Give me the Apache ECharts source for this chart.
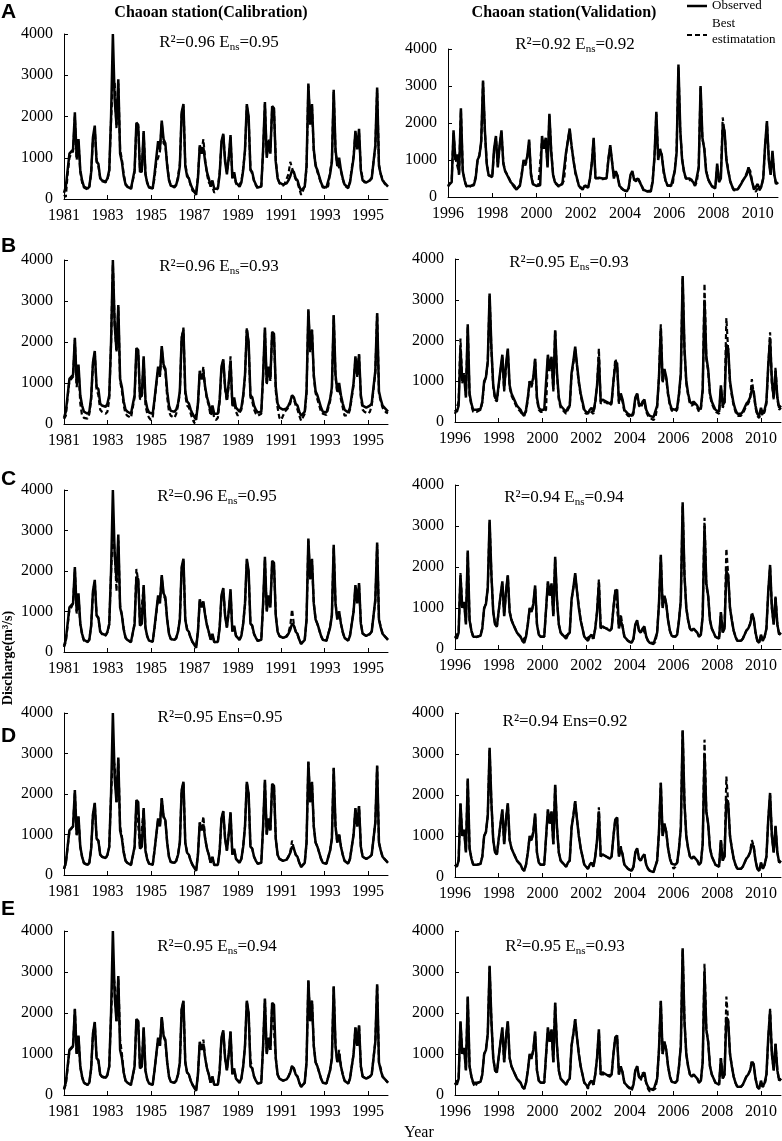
<!DOCTYPE html>
<html>
<head>
  <meta charset="UTF-8">
  <title>Chaoan station discharge</title>
  <style>
    body { margin: 0; background: #fff; }
    #main { width: 782px; height: 1141px; }
  </style>
</head>
<body>
  <div id="main"></div>
  <script src="https://cdn.jsdelivr.net/npm/echarts@6/dist/echarts.min.js"></script>
  <script>
    const calYears = ['1981','1982','1983','1984','1985','1986','1987','1988','1989','1990','1991','1992','1993','1994','1995'];
    const valYears = ['1996','1997','1998','1999','2000','2001','2002','2003','2004','2005','2006','2007','2008','2009','2010'];
    const months = ['01','02','03','04','05','06','07','08','09','10','11','12'];
    const yTicks = [0, 1000, 2000, 3000, 4000];

    // observed monthly discharge, one row per year
    const obsCal = [
      150, 300, 700, 1100, 1150, 1200, 2100, 1000, 1450, 700, 450, 300,
      280, 250, 300, 650, 1500, 1780, 900, 850, 500, 450, 450, 420,
      500, 700, 2000, 4000, 2400, 1800, 2900, 1100, 900, 550, 350, 300,
      300, 250, 230, 700, 1850, 1800, 650, 700, 1650, 600, 380, 280,
      260, 250, 600, 1000, 1400, 1200, 1900, 1450, 1350, 800, 450, 320,
      320, 300, 350, 500, 800, 2100, 2300, 800, 550, 500, 350, 250,
      250, 100, 500, 1300, 1100, 1250, 900, 650, 500, 300, 450, 250,
      220, 250, 600, 1400, 1580, 900, 600, 1000, 1550, 500, 650, 400,
      400, 300, 400, 700, 1200, 2300, 2000, 700, 650, 450, 350, 280,
      280, 300, 1200, 2350, 1000, 1400, 1100, 2250, 2200, 900, 500, 400,
      380, 350, 360, 380, 450, 550, 700, 650, 500, 450, 300, 200,
      220, 300, 800, 2800, 1800, 2300, 1200, 800, 700, 550, 400, 300,
      300, 280, 300, 600, 900, 2650, 1200, 800, 1000, 700, 500, 350,
      320, 280, 400, 700, 1000, 1650, 1200, 1700, 700, 450, 420, 400,
      420, 450, 500, 900, 1300, 2700, 800, 600, 450, 400, 350, 300
    ];
    const obsVal = [
      300, 250, 400, 1800, 1000, 1150, 600, 2400, 700, 450, 300, 280,
      300, 300, 320, 500, 1000, 1100, 1500, 3150, 1800, 900, 600, 550,
      550, 1300, 1650, 800, 1400, 1800, 900, 700, 600, 500, 400, 350,
      300, 200, 150, 300, 600, 1000, 900, 1100, 1550, 600, 350, 300,
      300, 300, 320, 1650, 1300, 1600, 800, 2250, 1200, 600, 400, 350,
      300, 250, 350, 400, 1200, 1500, 1850, 1400, 1000, 700, 500, 300,
      250, 200, 300, 350, 250, 500, 900, 1600, 500, 550, 520, 500,
      500, 450, 500, 1000, 1400, 1450, 500, 700, 550, 300, 250, 200,
      180, 150, 250, 600, 700, 450, 400, 500, 550, 300, 200, 150,
      150, 120, 150, 400, 1100, 2300, 1000, 1300, 1100, 700, 450, 320,
      300, 300, 350, 700, 1200, 3580, 1800, 1000, 700, 500, 450, 500,
      500, 400, 300, 350, 800, 3000, 1600, 1300, 700, 500, 400, 300,
      300, 250, 900, 400, 500, 1900, 1800, 1000, 700, 450, 300, 200,
      180, 200, 250, 350, 450, 500, 600, 800, 750, 400, 200, 150,
      350, 200, 300, 500, 1400, 2050, 1000, 600, 1250, 600, 350, 400
    ];

    // best estimation of each model (rows A..E)
    const estCalA = [
      100, 50, 600, 1000, 1100, 1150, 2000, 950, 1400, 650, 400, 280,
      250, 230, 300, 600, 1450, 1700, 950, 800, 520, 430, 420, 400,
      480, 650, 1900, 2900, 2800, 1700, 2800, 1200, 950, 600, 380, 300,
      280, 230, 250, 650, 1800, 1750, 700, 650, 1600, 620, 400, 300,
      280, 260, 500, 900, 1000, 1150, 1850, 1350, 1300, 850, 480, 330,
      300, 280, 330, 550, 850, 2050, 2250, 850, 600, 480, 330, 200,
      220, 150, 550, 1250, 1150, 1450, 950, 600, 400, 350, 300, 150,
      200, 270, 650, 1350, 1550, 950, 650, 950, 1500, 550, 600, 380,
      300, 280, 420, 750, 1150, 2250, 1950, 750, 600, 430, 330, 250,
      260, 320, 1150, 2300, 1050, 1450, 1150, 2200, 2150, 950, 520, 380,
      350, 320, 380, 420, 600, 900, 750, 600, 480, 400, 250, 100,
      200, 320, 750, 2750, 1850, 2250, 1150, 850, 650, 520, 380, 280,
      280, 260, 320, 650, 950, 2600, 1150, 850, 850, 680, 480, 330,
      300, 260, 420, 750, 1050, 1600, 1250, 1600, 750, 480, 400, 380,
      400, 430, 520, 900, 1250, 2650, 850, 600, 480, 380, 330, 300
    ];
    const estValA = [
      280, 230, 450, 1750, 1050, 1100, 650, 2350, 750, 420, 280, 260,
      280, 320, 350, 550, 950, 1150, 1450, 3100, 1750, 950, 580, 530,
      530, 1250, 1600, 850, 1350, 1750, 950, 700, 620, 520, 420, 330,
      280, 190, 170, 320, 650, 950, 850, 1050, 1500, 650, 380, 280,
      280, 320, 350, 1550, 1350, 1550, 850, 2200, 1250, 620, 380, 330,
      280, 260, 370, 450, 1150, 1550, 1800, 1350, 1050, 650, 480, 320,
      230, 220, 320, 330, 280, 480, 950, 1550, 520, 520, 500, 480,
      480, 430, 520, 1050, 1350, 1400, 550, 680, 580, 320, 230, 180,
      170, 160, 230, 580, 650, 480, 420, 520, 500, 320, 180, 140,
      160, 130, 170, 450, 1050, 2250, 1050, 1250, 1150, 650, 430, 300,
      280, 320, 380, 750, 1250, 3500, 1750, 1050, 650, 520, 430, 480,
      480, 380, 320, 400, 850, 2950, 1550, 1350, 750, 480, 380, 280,
      280, 230, 850, 450, 550, 2150, 1750, 1050, 750, 430, 280, 180,
      170, 190, 270, 380, 420, 520, 650, 780, 700, 420, 220, 140,
      250, 180, 280, 520, 1350, 2000, 1050, 620, 1200, 580, 330, 380
    ];
    const estCalB = [
      120, 200, 650, 1050, 1100, 1150, 2050, 900, 1400, 500, 200, 150,
      150, 130, 250, 600, 1450, 1750, 850, 700, 350, 300, 280, 250,
      300, 600, 1950, 3900, 2450, 1750, 2850, 1050, 800, 450, 250, 200,
      180, 150, 180, 650, 1800, 1750, 600, 650, 1600, 450, 250, 150,
      100, 150, 550, 950, 1350, 1150, 1850, 1400, 1300, 650, 300, 200,
      180, 150, 250, 450, 750, 2100, 2350, 700, 450, 400, 250, 120,
      20, 50, 450, 1250, 1050, 1400, 850, 600, 450, 200, 350, 150,
      100, 150, 550, 1350, 1550, 850, 550, 950, 1650, 400, 550, 300,
      200, 200, 350, 650, 1150, 2350, 1950, 650, 550, 350, 250, 200,
      200, 250, 1150, 2300, 950, 1350, 1050, 2250, 2150, 800, 400, 150,
      100, 200, 300, 330, 400, 500, 700, 600, 450, 350, 200, 80,
      100, 250, 750, 2750, 1750, 2300, 1150, 750, 600, 450, 300, 250,
      230, 220, 250, 550, 850, 2650, 1150, 750, 900, 600, 400, 200,
      200, 220, 350, 650, 950, 1600, 1150, 1700, 650, 350, 300, 280,
      250, 300, 450, 850, 1250, 2700, 750, 550, 400, 330, 280, 260
    ];
    const estValB = [
      200, 200, 500, 2050, 950, 1200, 650, 2350, 650, 400, 250, 230,
      250, 280, 300, 480, 950, 1100, 1450, 3100, 1750, 850, 550, 500,
      500, 1250, 1600, 750, 1350, 1750, 850, 650, 550, 450, 350, 300,
      250, 180, 150, 250, 550, 1000, 850, 1050, 1550, 550, 300, 250,
      230, 250, 300, 1600, 1250, 1550, 750, 2250, 1150, 550, 350, 300,
      250, 200, 300, 380, 1150, 1450, 1800, 1350, 950, 650, 450, 250,
      200, 180, 280, 300, 200, 450, 900, 1800, 450, 500, 500, 480,
      450, 400, 450, 1000, 1550, 1400, 450, 650, 500, 250, 200, 150,
      130, 120, 200, 550, 700, 400, 350, 450, 500, 250, 150, 100,
      80, 50, 100, 350, 1100, 2400, 950, 1250, 1050, 650, 400, 280,
      250, 250, 300, 650, 1150, 3550, 1750, 950, 650, 450, 400, 450,
      450, 350, 250, 300, 750, 3400, 1550, 1250, 650, 450, 350, 250,
      250, 200, 850, 350, 450, 2550, 1750, 950, 650, 400, 250, 150,
      130, 150, 200, 300, 400, 450, 550, 1050, 700, 350, 150, 100,
      250, 150, 250, 450, 1350, 2200, 950, 550, 1350, 550, 300, 350
    ];
    const estCalC = [
      120, 250, 650, 1050, 1100, 1200, 2050, 950, 1400, 680, 420, 280,
      260, 240, 320, 630, 1450, 1750, 920, 820, 520, 440, 430, 400,
      480, 680, 1950, 3000, 2500, 1500, 2750, 1150, 920, 580, 360, 300,
      280, 240, 250, 680, 2050, 1750, 680, 680, 1600, 620, 390, 280,
      270, 260, 580, 950, 1350, 1250, 1850, 1400, 1300, 820, 460, 320,
      310, 290, 340, 520, 820, 2050, 2250, 820, 580, 480, 340, 240,
      230, 150, 520, 1250, 1150, 1200, 920, 680, 480, 320, 420, 240,
      210, 260, 620, 1350, 1550, 920, 620, 980, 1500, 520, 620, 400,
      380, 300, 420, 720, 1150, 2250, 1950, 720, 640, 440, 340, 270,
      270, 320, 1150, 2300, 1050, 1350, 1150, 2200, 2150, 920, 520, 390,
      370, 340, 360, 400, 480, 650, 1050, 680, 520, 430, 300, 200,
      220, 310, 780, 2750, 1800, 2250, 1200, 820, 680, 540, 390, 300,
      290, 270, 310, 620, 920, 2600, 1200, 850, 1000, 700, 480, 340,
      320, 290, 410, 720, 1000, 1600, 1250, 1650, 720, 460, 420, 390,
      410, 440, 520, 900, 1250, 2650, 820, 620, 460, 400, 350, 300
    ];
    const estValC = [
      280, 240, 420, 1850, 1050, 1150, 650, 2350, 720, 440, 300, 270,
      290, 300, 330, 520, 980, 1120, 1480, 3100, 1800, 920, 600, 540,
      540, 1280, 1600, 820, 1380, 1780, 920, 720, 600, 500, 400, 340,
      290, 200, 160, 310, 620, 980, 900, 1080, 1500, 620, 360, 300,
      290, 300, 330, 1600, 1300, 1550, 820, 2200, 1200, 610, 400, 340,
      290, 260, 360, 420, 1200, 1500, 1800, 1400, 1050, 700, 500, 300,
      240, 210, 310, 350, 260, 500, 920, 1700, 520, 540, 520, 490,
      490, 440, 500, 1000, 1450, 1450, 520, 850, 560, 310, 250, 200,
      170, 150, 250, 580, 680, 460, 400, 520, 550, 300, 190, 150,
      150, 130, 160, 420, 1100, 2250, 1050, 1300, 1100, 700, 440, 310,
      300, 300, 360, 720, 1200, 3500, 1800, 1000, 700, 500, 440, 490,
      490, 400, 300, 360, 820, 3200, 1550, 1300, 700, 500, 390, 300,
      290, 250, 880, 420, 520, 2450, 1800, 1000, 700, 450, 300, 200,
      170, 200, 250, 350, 450, 500, 620, 900, 750, 400, 200, 150,
      340, 200, 300, 500, 1380, 2000, 1000, 600, 1300, 600, 350, 400
    ];
    const estCalD = [
      150, 280, 680, 1080, 1120, 1200, 2050, 980, 1420, 690, 440, 290,
      270, 240, 310, 640, 1480, 1760, 900, 840, 510, 450, 440, 410,
      490, 690, 1980, 2900, 2700, 1800, 2850, 1200, 950, 580, 360, 300,
      290, 240, 240, 690, 1800, 1780, 660, 700, 1620, 610, 390, 280,
      260, 250, 590, 980, 1380, 1200, 1880, 1420, 1330, 810, 450, 320,
      320, 300, 350, 510, 810, 2080, 2280, 800, 560, 500, 350, 250,
      240, 120, 500, 1280, 1100, 1450, 880, 650, 500, 310, 440, 250,
      220, 250, 600, 1380, 1560, 900, 610, 1000, 1530, 510, 640, 400,
      390, 300, 400, 700, 1200, 2280, 1980, 720, 650, 450, 350, 280,
      280, 310, 1180, 2320, 1000, 1380, 1100, 2230, 2180, 900, 500, 400,
      380, 350, 360, 380, 460, 560, 850, 650, 500, 450, 300, 200,
      220, 300, 800, 2780, 1800, 2280, 1200, 800, 700, 550, 400, 300,
      300, 280, 300, 600, 900, 2630, 1200, 800, 1020, 700, 500, 350,
      320, 280, 400, 700, 1000, 1640, 1200, 1700, 700, 450, 420, 400,
      420, 450, 500, 900, 1300, 2680, 800, 600, 450, 400, 350, 300
    ];
    const estValD = [
      300, 250, 420, 1780, 1000, 1150, 620, 2380, 700, 450, 300, 280,
      300, 300, 320, 500, 1000, 1100, 1500, 3120, 1800, 900, 600, 550,
      550, 1300, 1600, 800, 1400, 1780, 900, 700, 600, 500, 400, 350,
      300, 200, 150, 300, 600, 1000, 880, 1100, 1500, 600, 350, 300,
      300, 300, 320, 1600, 1300, 1580, 800, 2250, 1200, 600, 400, 350,
      300, 250, 350, 400, 1200, 1500, 1850, 1400, 1000, 700, 500, 300,
      250, 200, 300, 350, 250, 500, 900, 1700, 500, 550, 520, 500,
      500, 450, 500, 1000, 1400, 1450, 500, 750, 550, 300, 250, 200,
      180, 150, 250, 600, 700, 450, 400, 500, 550, 300, 200, 150,
      150, 120, 150, 400, 1100, 2300, 1000, 1300, 1100, 700, 450, 320,
      200, 250, 350, 700, 1200, 3580, 1800, 1000, 700, 500, 450, 500,
      500, 400, 300, 350, 800, 3350, 1600, 1300, 700, 500, 400, 300,
      300, 250, 900, 400, 500, 2450, 1800, 1000, 700, 450, 300, 200,
      180, 200, 250, 350, 450, 500, 600, 900, 750, 400, 200, 150,
      350, 200, 300, 500, 1400, 2000, 1000, 600, 1250, 600, 350, 400
    ];
    const estCalE = [
      130, 260, 650, 1080, 1130, 1180, 2080, 980, 1420, 680, 430, 290,
      270, 240, 300, 640, 1470, 1760, 900, 830, 500, 440, 440, 410,
      480, 690, 1950, 3000, 2700, 1800, 2850, 1350, 1000, 550, 350, 300,
      290, 240, 230, 680, 1830, 1780, 650, 700, 1630, 600, 380, 280,
      260, 250, 590, 980, 1380, 1200, 1880, 1430, 1300, 800, 450, 320,
      320, 300, 350, 500, 800, 2080, 2280, 800, 550, 500, 350, 250,
      250, 120, 500, 1280, 1100, 1350, 900, 650, 500, 300, 450, 250,
      220, 250, 600, 1380, 1560, 900, 600, 1000, 1540, 500, 640, 400,
      400, 300, 400, 700, 1200, 2280, 1980, 850, 650, 450, 350, 280,
      280, 300, 1200, 2330, 1000, 1400, 1100, 2230, 2200, 900, 500, 400,
      380, 350, 360, 380, 450, 560, 720, 650, 500, 450, 300, 200,
      220, 300, 800, 2780, 1800, 2300, 1200, 800, 700, 550, 400, 300,
      300, 280, 300, 600, 900, 2630, 1200, 800, 1100, 700, 500, 350,
      320, 280, 400, 700, 1000, 1640, 1200, 1700, 700, 450, 420, 400,
      420, 450, 500, 900, 1300, 2680, 800, 650, 450, 400, 350, 300
    ];
    const estValE = [
      250, 230, 420, 1780, 1000, 1150, 620, 2380, 700, 450, 280, 200,
      280, 300, 320, 500, 1000, 1100, 1500, 3120, 1800, 900, 600, 550,
      550, 1300, 1550, 800, 1400, 1780, 900, 700, 600, 500, 400, 350,
      300, 200, 150, 300, 600, 1000, 880, 1100, 1500, 600, 350, 300,
      300, 300, 320, 1600, 1300, 1580, 800, 2250, 1200, 600, 400, 350,
      300, 250, 350, 400, 1200, 1500, 1850, 1400, 1000, 700, 500, 300,
      250, 150, 300, 350, 250, 500, 900, 1550, 500, 520, 500, 480,
      480, 450, 500, 1000, 1400, 1450, 500, 700, 550, 300, 250, 200,
      150, 100, 250, 600, 700, 450, 350, 550, 550, 300, 150, 80,
      150, 120, 150, 400, 1100, 2280, 1000, 1300, 1100, 700, 450, 320,
      300, 300, 350, 700, 1200, 3550, 1800, 1000, 700, 500, 450, 500,
      500, 400, 300, 350, 800, 3200, 1600, 1300, 700, 500, 400, 300,
      300, 250, 900, 400, 500, 2400, 1800, 1000, 700, 450, 300, 200,
      180, 200, 250, 350, 450, 500, 600, 850, 750, 400, 200, 150,
      250, 200, 250, 450, 1350, 2100, 1000, 600, 1250, 600, 350, 400
    ];

    const panelLetters = ['A', 'B', 'C', 'D', 'E'];
    const calStats = [['0.96', '0.95'], ['0.96', '0.93'], ['0.96', '0.95'], ['0.95', '0.95'], ['0.95', '0.94']];
    const valStats = [['0.92', '0.92'], ['0.95', '0.93'], ['0.94', '0.94'], ['0.94', '0.92'], ['0.95', '0.93']];
    const calEst = [estCalA, estCalB, estCalC, estCalD, estCalE];
    const valEst = [estValA, estValB, estValC, estValD, estValE];

    const calCats = calYears.flatMap(y => months.map(m => y + '-' + m));
    const valCats = valYears.flatMap(y => months.map(m => y + '-' + m));

    // panel boxes [left, top, width, height]
    const calBoxes = [[64, 34, 324, 165], [64, 260, 324, 164], [64, 490, 324, 162], [64, 713, 324, 162], [64, 931, 324, 164]];
    const valBoxes = [[448, 49, 330, 148], [455, 259, 326, 163], [455, 485, 326, 164], [455, 713, 326, 164], [455, 931, 326, 164]];
    const letterTops = [2, 236, 469, 726, 899];
    const statPos = [[[219, 43], [575, 45]], [[219, 267], [569, 263]], [[217, 497], [564, 498]], [[220, 718], [565, 722]], [[217, 947], [565, 947]]];

    const serif = 'Liberation Serif';
    const grids = [], xAxes = [], yAxes = [], series = [], graphics = [];

    function addPanel(box, cats, obs, est) {
      const i = grids.length;
      grids.push({ left: box[0], top: box[1], width: box[2], height: box[3], outerBoundsMode: 'none' });
      xAxes.push({
        type: 'category', gridIndex: i, data: cats, boundaryGap: false,
        axisLine: { lineStyle: { color: '#000', width: 1 } },
        axisTick: { inside: true, interval: 23, length: 4, lineStyle: { color: '#000' } },
        axisLabel: { interval: 23, formatter: v => v.slice(0, 4), color: '#000', fontFamily: serif, fontSize: 16, margin: 9 },
        splitLine: { show: false }
      });
      yAxes.push({
        type: 'value', gridIndex: i, min: yTicks[0], max: yTicks[yTicks.length - 1], interval: 1000,
        axisLine: { show: true, lineStyle: { color: '#000', width: 1 } },
        axisTick: { show: true, inside: true, length: 4, lineStyle: { color: '#000' } },
        axisLabel: { color: '#000', fontFamily: serif, fontSize: 16, margin: 11, formatter: v => String(v) },
        splitLine: { show: false }
      });
      series.push({
        name: 'Best estimatation', type: 'line', xAxisIndex: i, yAxisIndex: i, data: est,
        symbol: 'none', silent: true, animation: false,
        lineStyle: { color: '#000', width: 2.2, type: [5, 3] }
      });
      series.push({
        name: 'Observed', type: 'line', xAxisIndex: i, yAxisIndex: i, data: obs,
        symbol: 'none', silent: true, animation: false,
        lineStyle: { color: '#000', width: 2.5 }
      });
    }

    function statText(pos, r2, ens, plain) {
      const text = plain ? 'R²=' + r2 + ' Ens=' + ens : 'R²=' + r2 + ' E{sub|ns}=' + ens;
      return {
        type: 'text', x: pos[0], y: pos[1],
        style: {
          text: text, fill: '#000', font: '17px ' + serif, align: 'center', verticalAlign: 'middle',
          rich: { sub: { fontSize: 11, fontFamily: serif, fill: '#000', padding: [9, 0, 0, 0] } }
        }
      };
    }

    for (let r = 0; r < 5; r++) {
      addPanel(calBoxes[r], calCats, obsCal, calEst[r]);
      addPanel(valBoxes[r], valCats, obsVal, valEst[r]);
      graphics.push({ type: 'text', left: 1, top: letterTops[r], style: { text: panelLetters[r], fill: '#000', font: 'bold 21px Liberation Sans' } });
      graphics.push(statText(statPos[r][0], calStats[r][0], calStats[r][1], r === 3));
      graphics.push(statText(statPos[r][1], valStats[r][0], valStats[r][1], r === 3));
    }

    graphics.push({ type: 'text', x: 211, y: 13, style: { text: 'Chaoan station(Calibration)', fill: '#000', font: 'bold 16px ' + serif, align: 'center', verticalAlign: 'middle' } });
    graphics.push({ type: 'text', x: 564, y: 13, style: { text: 'Chaoan station(Validation)', fill: '#000', font: 'bold 16px ' + serif, align: 'center', verticalAlign: 'middle' } });
    graphics.push({ type: 'text', x: 419, y: 1133, style: { text: 'Year', fill: '#000', font: '16px ' + serif, align: 'center', verticalAlign: 'middle' } });
    graphics.push({ type: 'text', x: 8, y: 658, rotation: Math.PI / 2, style: { text: 'Discharge(m³/s)', fill: '#000', font: 'bold 14px ' + serif, align: 'center', verticalAlign: 'middle' } });

    // legend keys
    graphics.push({ type: 'line', shape: { x1: 687, y1: 6, x2: 707, y2: 6 }, style: { stroke: '#000', lineWidth: 2.5 } });
    graphics.push({ type: 'line', shape: { x1: 687, y1: 35, x2: 707, y2: 35 }, style: { stroke: '#000', lineWidth: 2.2, lineDash: [5, 3] } });
    graphics.push({ type: 'text', x: 712, y: 6, style: { text: 'Observed', fill: '#000', font: '13px ' + serif, verticalAlign: 'middle' } });
    graphics.push({ type: 'text', x: 712, y: 24, style: { text: 'Best', fill: '#000', font: '13px ' + serif, verticalAlign: 'middle' } });
    graphics.push({ type: 'text', x: 712, y: 40, style: { text: 'estimatation', fill: '#000', font: '13px ' + serif, verticalAlign: 'middle' } });

    const chart = echarts.init(document.getElementById('main'));
    chart.setOption({
      animation: false,
      backgroundColor: '#fff',
      grid: grids,
      xAxis: xAxes,
      yAxis: yAxes,
      series: series,
      graphic: graphics
    });
  </script>
</body>
</html>
